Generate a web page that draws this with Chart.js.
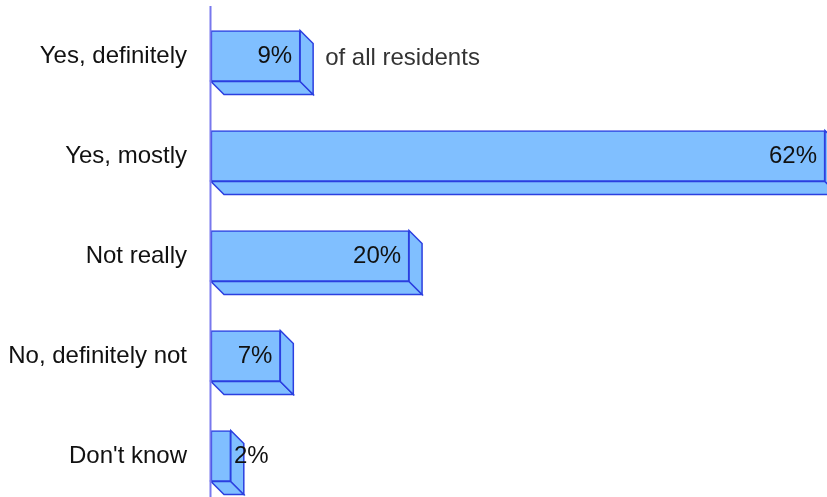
<!DOCTYPE html>
<html>
<head>
<meta charset="utf-8">
<script src="https://cdn.jsdelivr.net/npm/chart.js@4/dist/chart.umd.min.js"></script>
<style>
  html, body { margin: 0; padding: 0; background: #ffffff; overflow: hidden; }
  canvas { display: block; }
</style>
</head>
<body>
<canvas id="c" width="827" height="507" style="width:827px;height:507px"></canvas>
<script>
const categories = ["Yes, definitely", "Yes, mostly", "Not really", "No, definitely not", "Don't know"];
const values = [9, 62, 20, 7, 2];
const valueLabels = ["9%", "62%", "20%", "7%", "2%"];
const noteText = "of all residents";

const FILL = "#80bfff";
const EDGE = "#2b3fe0";
const AXIS = "#7878ee";
const DEPTH = 13;
const FONT = "'Liberation Sans', Arial, Helvetica, sans-serif";

const depthPlugin = {
  id: "depth3d",
  beforeDatasetsDraw(chart) {
    const ctx = chart.ctx;
    const meta = chart.getDatasetMeta(0);
    ctx.save();
    ctx.lineWidth = 1.5;
    ctx.strokeStyle = EDGE;
    ctx.fillStyle = FILL;
    meta.data.forEach((bar) => {
      const p = bar.getProps(["x", "y", "base", "height"], true);
      const x0 = p.base, x1 = p.x;
      const top = p.y - p.height / 2, bot = p.y + p.height / 2;
      ctx.beginPath();
      ctx.moveTo(x0, bot); ctx.lineTo(x1, bot);
      ctx.lineTo(x1 + DEPTH, bot + DEPTH); ctx.lineTo(x0 + DEPTH, bot + DEPTH);
      ctx.closePath(); ctx.fill(); ctx.stroke();
      ctx.beginPath();
      ctx.moveTo(x1, top); ctx.lineTo(x1 + DEPTH, top + DEPTH);
      ctx.lineTo(x1 + DEPTH, bot + DEPTH); ctx.lineTo(x1, bot);
      ctx.closePath(); ctx.fill(); ctx.stroke();
    });
    ctx.restore();
  },
  afterDatasetsDraw(chart) {
    const ctx = chart.ctx;
    const meta = chart.getDatasetMeta(0);
    const area = chart.chartArea;
    ctx.save();
    ctx.strokeStyle = AXIS;
    ctx.lineWidth = 2;
    ctx.beginPath();
    ctx.moveTo(area.left - 0.5, 6);
    ctx.lineTo(area.left - 0.5, chart.height);
    ctx.stroke();
    ctx.font = "24px " + FONT;
    ctx.fillStyle = "#111111";
    ctx.textBaseline = "middle";
    meta.data.forEach((bar, i) => {
      const p = bar.getProps(["x", "y", "base"], true);
      const txt = valueLabels[i];
      const w = ctx.measureText(txt).width;
      if (p.x - p.base > w + 14) {
        ctx.textAlign = "right";
        ctx.fillText(txt, p.x - 8, p.y);
      } else {
        ctx.textAlign = "left";
        ctx.fillText(txt, p.base + 23, p.y);
      }
    });
    const b0 = meta.data[0].getProps(["x", "y"], true);
    ctx.font = "24px " + FONT;
    ctx.fillStyle = "#333333";
    ctx.textAlign = "left";
    ctx.fillText(noteText, b0.x + DEPTH + 12, b0.y + 2);
    ctx.restore();
  }
};

new Chart(document.getElementById("c"), {
  type: "bar",
  data: {
    labels: categories,
    datasets: [{
      data: values,
      backgroundColor: FILL,
      borderColor: EDGE,
      borderWidth: 1.5,
      barThickness: 51,
      borderSkipped: false
    }]
  },
  options: {
    indexAxis: "y",
    responsive: false,
    maintainAspectRatio: false,
    devicePixelRatio: 1,
    animation: false,
    events: [],
    layout: { padding: { top: 6, right: 2, bottom: 1, left: 0 } },
    plugins: { legend: { display: false }, tooltip: { enabled: false } },
    scales: {
      x: { display: false, min: 0, max: 62 },
      y: {
        grid: { display: false, drawTicks: false },
        border: { display: false },
        ticks: {
          color: "#111111",
          font: { family: FONT, size: 24 },
          padding: 24
        },
        afterFit(scale) {
          scale.width = 211;
          scale.paddingTop = 0;
          scale.paddingBottom = 0;
        }
      }
    }
  },
  plugins: [depthPlugin]
});
</script>
</body>
</html>
